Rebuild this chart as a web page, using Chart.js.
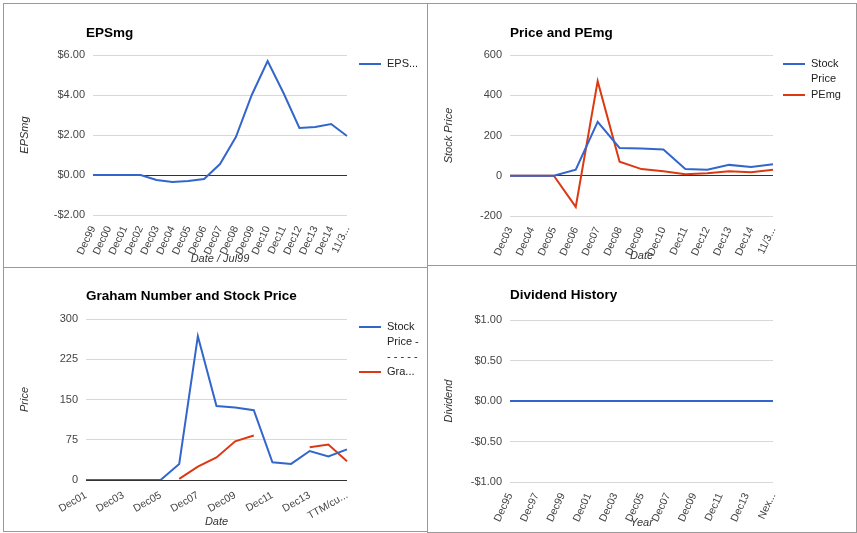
<!DOCTYPE html>
<html><head><meta charset="utf-8">
<script src="https://cdn.jsdelivr.net/npm/chart.js@4"></script>
<style>
body{margin:0;width:857px;height:533px;background:#fff;position:relative;overflow:hidden;font-family:Arial,"Liberation Sans",sans-serif}
.p{position:absolute;background:#fff;border:1px solid #999;box-sizing:border-box}
.p canvas{position:absolute;left:0;top:0}
.t{position:absolute;font-weight:bold;font-size:13.5px;color:#000}
.lg{position:absolute;font-size:11px;color:#222;line-height:15px}
.lg div{position:relative;padding-left:28px}
.lg span{position:absolute;left:0;top:7px;width:22px;height:2px}
</style></head><body>
<div class="p" id="p1" style="left:3px;top:3px;width:425px;height:266px"><canvas id="c1"></canvas><div class="t" style="left:82px;top:21px">EPSmg</div>
<div class="lg" style="left:355px;top:52px;width:68px"><div><span style="background:#3366cc"></span>EPS...</div></div></div>
<div class="p" id="p2" style="left:427px;top:3px;width:430px;height:263px"><canvas id="c2"></canvas><div class="t" style="left:82px;top:21px">Price and PEmg</div>
<div class="lg" style="left:355px;top:52px;width:70px"><div><span style="background:#3366cc"></span>Stock<br>Price</div><div style="margin-top:1px"><span style="background:#dc3912"></span>PEmg</div></div></div>
<div class="p" id="p3" style="left:3px;top:267px;width:425px;height:265px"><canvas id="c3"></canvas><div class="t" style="left:82px;top:20px">Graham Number and Stock Price</div>
<div class="lg" style="left:355px;top:51px;width:68px"><div><span style="background:#3366cc"></span>Stock<br>Price -<br>- - - - -</div><div style="margin-top:0px"><span style="background:#dc3912"></span>Gra...</div></div></div>
<div class="p" id="p4" style="left:427px;top:265px;width:430px;height:268px"><canvas id="c4"></canvas><div class="t" style="left:82px;top:21px">Dividend History</div></div>
<script>
// Panel 1
const epsLabels=["Dec99","Dec00","Dec01","Dec02","Dec03","Dec04","Dec05","Dec06","Dec07","Dec08","Dec09","Dec10","Dec11","Dec12","Dec13","Dec14","11/3..."];
const epsValues=[0,0,0,0,-0.25,-0.35,-0.3,-0.2,0.55,1.9,4.0,5.7,4.1,2.35,2.4,2.55,1.95];
// Panel 2
const pe2Labels=["Dec03","Dec04","Dec05","Dec06","Dec07","Dec08","Dec09","Dec10","Dec11","Dec12","Dec13","Dec14","11/3..."];
const price2Values=[0,0,0,30,268,138,135,130,33,30,54,44,57];
const pemgValues=[0,0,0,-155,470,70,33,22,8,13,22,17,30];
// Panel 3
const grLabels=["Dec01","Dec02","Dec03","Dec04","Dec05","Dec06","Dec07","Dec08","Dec09","Dec10","Dec11","Dec12","Dec13","Dec14","TTM/cu..."];
const price3Values=[0,0,0,0,0,30,268,138,135,130,33,30,54,44,57];
const grahamValues=[0,0,0,null,null,2,25,42,72,83,null,null,61,66,35];
// Panel 4
const divLabels=["Dec95","Dec96","Dec97","Dec98","Dec99","Dec00","Dec01","Dec02","Dec03","Dec04","Dec05","Dec06","Dec07","Dec08","Dec09","Dec10","Dec11","Dec12","Dec13","Dec14","Nex..."];
const divValues=divLabels.map(()=>0);

const BLUE='#3366cc',RED='#dc3912';
function make(id,w,h,pl,pt,pr,xh,labels,sets,y,xRot,every,xTitle,yTitle,money){
  const c=document.getElementById(id);c.width=w;c.height=h;
  new Chart(c,{type:'line',data:{labels,datasets:sets.map(s=>({data:s.d,borderColor:s.c,borderWidth:2,pointRadius:0,tension:0,spanGaps:false}))},
  options:{responsive:false,animation:false,devicePixelRatio:1,
   layout:{padding:{left:10,top:pt,right:pr,bottom:2}},
   plugins:{legend:{display:false},tooltip:{enabled:false}},
   scales:{
    x:{offset:false,grid:{display:false},border:{display:false},
      ticks:{autoSkip:false,minRotation:xRot,maxRotation:xRot,color:'#444',font:{size:10.5,family:'Arial'},padding:1,
        callback:function(v,i){return i%every===0?this.getLabelForValue(v):'';}},
      title:{display:true,text:xTitle,color:'#333',font:{size:11,style:'italic',family:'Arial'},padding:0},
      afterFit:s=>{s.height=xh;}},
    y:{min:y[0],max:y[1],grid:{color:ctx=>ctx.tick.value===0?'#333':'#d8d8d8',drawTicks:false},border:{display:false},
      ticks:{stepSize:y[2],color:'#444',font:{size:11,family:'Arial'},padding:8,
        callback:v=>money?(v<0?'-$':'$')+Math.abs(v).toFixed(2):v},
      title:{display:true,text:yTitle,color:'#333',font:{size:11,style:'italic',family:'Arial'},padding:4},
      afterFit:s=>{s.width=pl-10;}}
   }}});
}
make('c1',423,264,89,51,80,51,epsLabels,[{d:epsValues,c:BLUE}],[-2,6,2],65,1,'Date / Jul99','EPSmg',true);
make('c2',428,261,82,51,83,47,pe2Labels,[{d:price2Values,c:BLUE},{d:pemgValues,c:RED}],[-200,600,200],65,1,'Date','Stock Price',false);
make('c3',423,263,82,51,80,49,grLabels,[{d:price3Values,c:BLUE},{d:grahamValues,c:RED}],[0,300,75],30,2,'Date','Price',false);
make('c4',428,266,82,54,83,48,divLabels,[{d:divValues,c:BLUE}],[-1,1,0.5],65,2,'Year','Dividend',true);
</script></body></html>
